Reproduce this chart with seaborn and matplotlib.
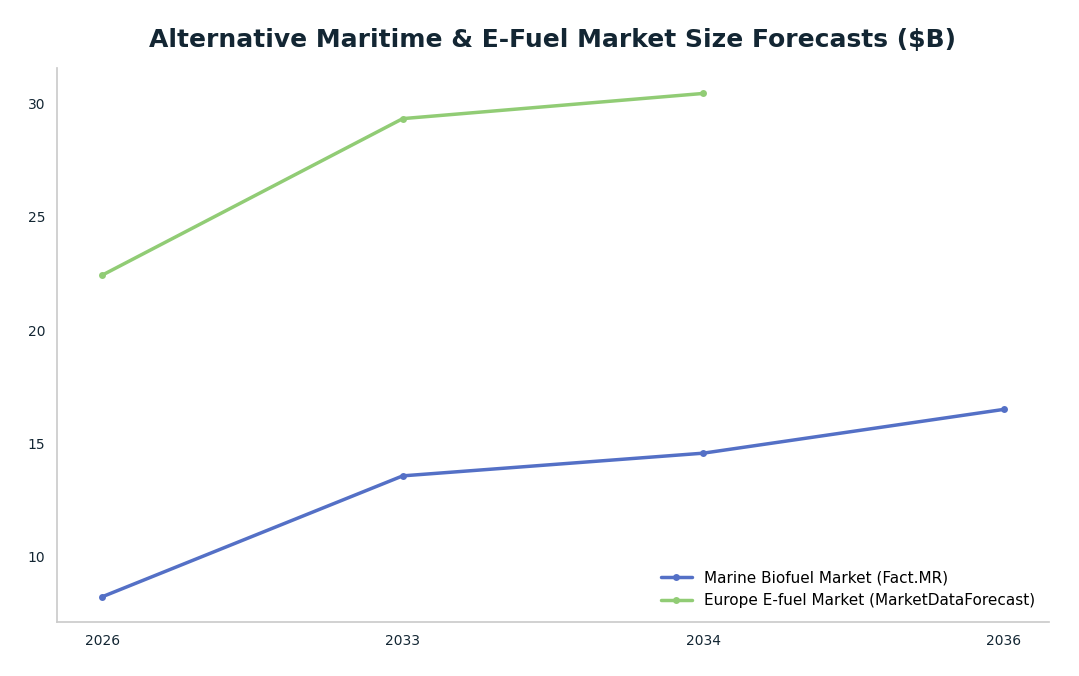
import pandas as pd
import matplotlib.pyplot as plt
import seaborn as sns

years = ['2026', '2033', '2034', '2036']
marine_biofuel = [8.24, 13.57, 14.57, 16.5]
europe_efuel = [22.42, 29.32, 30.43]

SERIES_MARINE = 'Marine Biofuel Market (Fact.MR)'
SERIES_EUROPE = 'Europe E-fuel Market (MarketDataForecast)'

df = pd.concat([
    pd.DataFrame({'year': years, 'value': marine_biofuel, 'series': SERIES_MARINE}),
    pd.DataFrame({'year': years[:len(europe_efuel)], 'value': europe_efuel, 'series': SERIES_EUROPE}),
], ignore_index=True)

sns.set_theme(style='white')
plt.rcParams['font.family'] = ['DejaVu Sans']

TEXT = '#132633'
fig, ax = plt.subplots(figsize=(10.79, 6.76), dpi=100)
sns.lineplot(
    data=df, x='year', y='value', hue='series',
    palette=['#5470c6', '#91cc75'], marker='o', markersize=5,
    markeredgewidth=0, linewidth=2.5, ax=ax,
)

ax.set_title('Alternative Maritime & E-Fuel Market Size Forecasts ($B)',
             fontsize=18, fontweight='bold', color=TEXT, pad=15)
ax.set_xlabel('')
ax.set_ylabel('')
ax.set_yticks([10, 15, 20, 25, 30])
ax.tick_params(axis='both', labelsize=10, colors=TEXT, length=4, color='#666666', pad=4.5)
for s in ['top', 'right']:
    ax.spines[s].set_visible(False)
for s in ['left', 'bottom']:
    ax.spines[s].set_color('#cccccc')

leg = ax.legend(loc='lower right', frameon=False, fontsize=11, title=None)
for t in leg.get_texts():
    t.set_color('black')

plt.subplots_adjust(left=0.053, right=0.972, top=0.899, bottom=0.08)
plt.savefig('out.png', dpi=100)
